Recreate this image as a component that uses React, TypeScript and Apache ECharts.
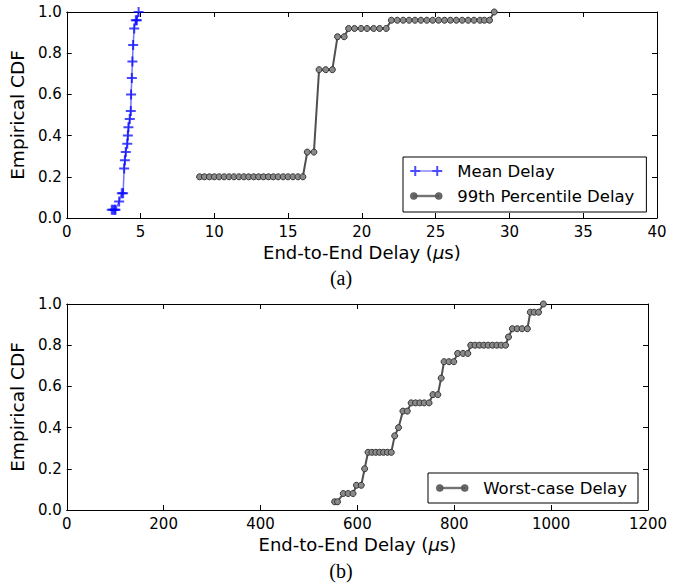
import React, { useEffect, useRef } from "react";
import * as echarts from "echarts";

// ---- Data ----
const meanX = [3.05, 3.15, 3.25, 3.3, 3.55, 3.73, 3.82, 3.89, 3.94, 4.0, 4.1, 4.14, 4.18, 4.27, 4.34, 4.36, 4.41, 4.45, 4.5, 4.57, 4.68, 4.75, 4.87];
const meanY = [0.04, 0.04, 0.04, 0.04, 0.08, 0.12, 0.12, 0.24, 0.28, 0.32, 0.36, 0.4, 0.44, 0.48, 0.52, 0.6, 0.68, 0.76, 0.84, 0.92, 0.96, 0.96, 1.0];

const p99X = [9.0, 9.33, 9.67, 10.0, 10.33, 10.67, 11.0, 11.33, 11.67, 12.0, 12.33, 12.67, 13.0, 13.33, 13.67, 14.0, 14.33, 14.67, 15.0, 15.33, 15.67, 16.0,
  16.3, 16.75, 17.1, 17.55, 18.0, 18.35, 18.8, 19.1, 19.5, 19.95, 20.35, 20.8, 21.2, 21.65,
  22.0, 22.4, 22.8, 23.2, 23.6, 24.0, 24.4, 24.8, 25.2, 25.6, 26.0, 26.4, 26.8, 27.2, 27.6, 28.0, 28.3, 28.65, 28.97];
const p99Y = [0.2, 0.2, 0.2, 0.2, 0.2, 0.2, 0.2, 0.2, 0.2, 0.2, 0.2, 0.2, 0.2, 0.2, 0.2, 0.2, 0.2, 0.2, 0.2, 0.2, 0.2, 0.2,
  0.32, 0.32, 0.72, 0.72, 0.72, 0.88, 0.88, 0.92, 0.92, 0.92, 0.92, 0.92, 0.92, 0.92,
  0.96, 0.96, 0.96, 0.96, 0.96, 0.96, 0.96, 0.96, 0.96, 0.96, 0.96, 0.96, 0.96, 0.96, 0.96, 0.96, 0.96, 0.96, 1.0];

const wcX = [553, 559, 571, 581, 591, 598, 608, 615, 622, 630, 638, 646, 654, 662, 670, 677, 685, 694, 703,
  711, 720, 729, 738, 748, 756, 766, 773, 779, 789, 799, 807, 818, 828,
  834, 843, 852, 861, 870, 879, 888, 897, 906, 912, 920, 930, 940, 951, 957, 965, 974, 984];
const wcY = [0.04, 0.04, 0.08, 0.08, 0.08, 0.12, 0.12, 0.2, 0.28, 0.28, 0.28, 0.28, 0.28, 0.28, 0.28, 0.36, 0.4, 0.48, 0.48,
  0.52, 0.52, 0.52, 0.52, 0.52, 0.56, 0.56, 0.64, 0.72, 0.72, 0.72, 0.76, 0.76, 0.76,
  0.8, 0.8, 0.8, 0.8, 0.8, 0.8, 0.8, 0.8, 0.8, 0.84, 0.88, 0.88, 0.88, 0.88, 0.96, 0.96, 0.96, 1.0];

const topXTicks = { min: 0, max: 40, interval: 5 };
const botXTicks = { min: 0, max: 1200, interval: 200 };
const yTicks = { min: 0, max: 1, interval: 0.2 };

const seriesNames = ["Mean Delay", "99th Percentile Delay", "Worst-case Delay"];
const xTitle = "End-to-End Delay";
const yTitle = "Empirical CDF";
const panelLabels = ["(a)", "(b)"];

const zip = (xs: number[], ys: number[]) => xs.map((x, i) => [x, ys[i]]);

const FONT = "DejaVu Sans";
const PLUS = "path://M4,0H6V4H10V6H6V10H4V6H0V4H4Z";
const PLUS_LEGEND = "path://M0,4H10V6H0Z M4,0H6V10H4Z M22,4H32V6H22Z M26,0H28V10H26Z M10,4.6H22V5.4H10Z";
const CIRC_LEGEND = "path://M0,3.5A3.5,3.5 0 1,1 7,3.5A3.5,3.5 0 1,1 0,3.5Z M25,3.5A3.5,3.5 0 1,1 32,3.5A3.5,3.5 0 1,1 25,3.5Z M3.5,2.7H28.5V4.3H3.5Z";

const axisLineStyle = { show: true, onZero: false, lineStyle: { color: "#000", width: 1 } };
const axisTickStyle = { show: true, inside: true, length: 5, lineStyle: { color: "#000", width: 1 } };

function xAxes(grid: number, t: { min: number; max: number; interval: number }) {
  return [
    {
      gridIndex: grid, type: "value", position: "bottom", ...t,
      axisLine: axisLineStyle, axisTick: axisTickStyle, splitLine: { show: false },
      axisLabel: { fontSize: 15, color: "#000", fontFamily: FONT, margin: 6, formatter: (v: number) => String(v) },
      name: `{a|${xTitle} (}{b|μ}{a|s)}`, nameLocation: "middle", nameGap: 25,
      nameTextStyle: {
        rich: {
          a: { fontSize: 18, fontFamily: FONT, color: "#000" },
          b: { fontSize: 18, fontFamily: FONT, color: "#000", fontStyle: "italic" },
        },
      },
    },
    {
      gridIndex: grid, type: "value", position: "top", ...t,
      axisLine: axisLineStyle, axisTick: axisTickStyle, splitLine: { show: false }, axisLabel: { show: false },
    },
  ];
}

function yAxes(grid: number) {
  return [
    {
      gridIndex: grid, type: "value", position: "left", ...yTicks,
      axisLine: axisLineStyle, axisTick: axisTickStyle, splitLine: { show: false },
      axisLabel: { fontSize: 15, color: "#000", fontFamily: FONT, margin: 5, formatter: (v: number) => v.toFixed(1) },
      name: yTitle, nameLocation: "middle", nameGap: 32,
      nameTextStyle: { fontSize: 18.5, fontFamily: FONT, color: "#000" },
    },
    {
      gridIndex: grid, type: "value", position: "right", ...yTicks,
      axisLine: axisLineStyle, axisTick: axisTickStyle, splitLine: { show: false }, axisLabel: { show: false },
    },
  ];
}

const circleSeries = (name: string, data: number[][], xi: number, yi: number) => ({
  name, type: "line", xAxisIndex: xi, yAxisIndex: yi, data,
  symbol: "circle", symbolSize: 6, showSymbol: true,
  lineStyle: { color: "#505050", width: 2 },
  itemStyle: { color: "#8a8a8a", borderColor: "#333", borderWidth: 1 },
  z: 3,
});

export default function App() {
  const ref = useRef<HTMLDivElement>(null);
  useEffect(() => {
    if (!ref.current) return;
    const chart = echarts.init(ref.current, null, { renderer: "svg" });
    const legendText = { fontSize: 16.5, fontFamily: FONT, color: "#000", lineHeight: 20, padding: [0, 0, 0, 10] };
    chart.setOption({
      animation: false,
      backgroundColor: "#fff",
      grid: [
        { left: 64, top: 12, width: 593, height: 206 },
        { left: 64, top: 304, width: 584, height: 206 },
      ],
      xAxis: [...xAxes(0, topXTicks), ...xAxes(1, botXTicks)],
      yAxis: [...yAxes(0), ...yAxes(1)],
      legend: [
        {
          data: [
            { name: seriesNames[0], icon: PLUS_LEGEND, itemStyle: { color: "rgba(0,0,255,0.7)" } },
            { name: seriesNames[1], icon: CIRC_LEGEND, itemStyle: { color: "#6a6a6a", borderColor: "#444", borderWidth: 0.5 } },
          ],
          orient: "vertical", left: 403, top: 157,
          itemWidth: 32, itemHeight: 10, itemGap: 5,
          padding: [4, 12, 6, 7],
          borderColor: "#000", borderWidth: 1, borderRadius: 0, backgroundColor: "#fff",
          textStyle: legendText, selectedMode: false,
        },
        {
          data: [
            { name: seriesNames[2], icon: CIRC_LEGEND, itemStyle: { color: "#6a6a6a", borderColor: "#444", borderWidth: 0.5 } },
          ],
          orient: "vertical", left: 428, top: 473,
          itemWidth: 32, itemHeight: 10, itemGap: 5,
          padding: [5, 11, 5, 8],
          borderColor: "#000", borderWidth: 1, borderRadius: 0, backgroundColor: "#fff",
          textStyle: legendText, selectedMode: false,
        },
      ],
      series: [
        {
          name: seriesNames[0], type: "line", xAxisIndex: 0, yAxisIndex: 0,
          data: zip(meanX, meanY),
          symbol: PLUS, symbolSize: 10, showSymbol: true,
          lineStyle: { color: "rgba(0,0,255,0.55)", width: 1.5 },
          itemStyle: { color: "rgba(0,0,255,0.72)" },
          z: 4,
        },
        circleSeries(seriesNames[1], zip(p99X, p99Y), 0, 0),
        circleSeries(seriesNames[2], zip(wcX, wcY), 2, 2),
      ],
      graphic: [
        { type: "text", x: 341, y: 278, style: { text: panelLabels[0], fontSize: 20, fontFamily: "Liberation Serif", fill: "#000", textAlign: "center", textVerticalAlign: "middle" } },
        { type: "text", x: 341, y: 571, style: { text: panelLabels[1], fontSize: 20, fontFamily: "Liberation Serif", fill: "#000", textAlign: "center", textVerticalAlign: "middle" } },
      ],
    });
    return () => chart.dispose();
  }, []);
  return <div ref={ref} style={{ position: "absolute", left: 0, top: 0, width: 689, height: 587 }} />;
}
